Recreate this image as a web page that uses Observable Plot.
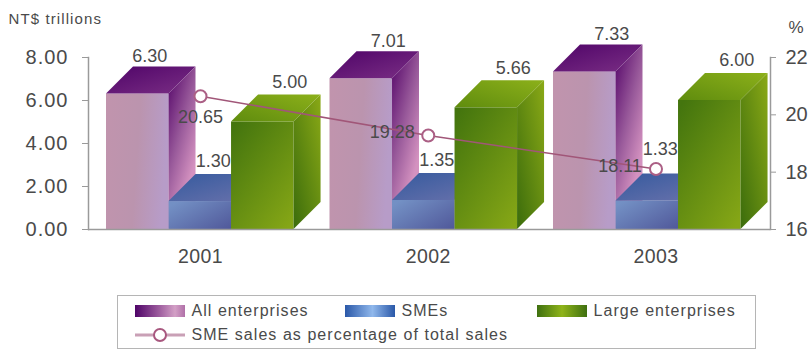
<!DOCTYPE html>
<html>
<head>
<meta charset="utf-8">
<script src="https://cdn.jsdelivr.net/npm/d3@7"></script>
<script src="https://cdn.jsdelivr.net/npm/@observablehq/plot@0.6"></script>
<style>
  html, body { margin: 0; background: #fff; }
  body { width: 809px; font-family: "Liberation Sans", Arial, sans-serif; color: #4a4a4a; }
  #legend {
    box-sizing: border-box; margin: 5px 0 0 117px; width: 639px; height: 54px;
    border: 1.5px solid #b5b5b5; position: relative; font-size: 16px; letter-spacing: 1.05px;
  }
  #legend .item { position: absolute; white-space: nowrap; display: flex; align-items: center; gap: 7px; height: 18px; }
  #legend .swatch { width: 50px; height: 12px; display: inline-block; }
  .unit text { letter-spacing: 1.1px; }
  .wide text { letter-spacing: 1px; }
  .year text { letter-spacing: 0.4px; }
</style>
</head>
<body>
<div id="chart"></div>
<div id="legend"></div>
<script>
// Sales by enterprise size, NT$ trillions
const years = [2001, 2002, 2003];
const allEnterprises = [6.30, 7.01, 7.33];
const smes = [1.30, 1.35, 1.33];
const largeEnterprises = [5.00, 5.66, 6.00];
// SME share of total sales, percent
const smeShare = [20.65, 19.28, 18.11];

const seriesNames = ["All enterprises", "SMEs", "Large enterprises"];
const lineName = "SME sales as percentage of total sales";
const unitLeft = "NT$ trillions";
const unitRight = "%";
const leftTicks = [0, 2, 4, 6, 8];
const rightTicks = [16, 18, 20, 22];

// The percent axis shares the vertical scale with the sales axis
const shareToY = (p) => (p - 16) / 6 * 8;
const yToShare = (y) => y / 8 * 6 + 16;

// Bar layout, in years along the x scale
const GROUP_STEP = 0.9813;
const GROUP_START = -0.4127;
const BAR_WIDTH = 0.2745;
const DEPTH = 27; // extrusion of the 3D faces, px
const AXIS = "#9a9a9a";
const TEXT = "#4a4a4a";

const barsOf = (values, slot) => years.map((year, i) => {
  const x1 = 2001 + i * GROUP_STEP + GROUP_START + slot * BAR_WIDTH;
  return { year, value: values[i], x1, x2: x1 + BAR_WIDTH, mid: x1 + BAR_WIDTH / 2 };
});
const allBars = barsOf(allEnterprises, 0);
const smeBars = barsOf(smes, 1);
const largeBars = barsOf(largeEnterprises, 2);
const shareRows = years.map((year, i) => ({ year, share: smeShare[i], y: shareToY(smeShare[i]) }));

// Linear gradient defined in a face's bounding box
function gradient(id, [x1, y1, x2, y2], stops) {
  const g = d3.create("svg:linearGradient").attr("id", id)
    .attr("x1", x1).attr("y1", y1).attr("x2", x2).attr("y2", y2);
  stops.forEach(([offset, color]) => g.append("stop").attr("offset", offset).attr("stop-color", color));
  return g.node();
}
const defsMark = () => {
  const defs = d3.create("svg:defs");
  [
    gradient("allFront", [0, 0, 1, 0.15], [[0, "#c194ad"], [0.55, "#bb94ae"], [1, "#b79cc8"]]),
    gradient("allTop", [0, 0, 1, 1], [[0, "#4f0468"], [1, "#7b2f85"]]),
    gradient("allSide", [0.2, 0, 0.8, 1], [[0, "#5e1170"], [0.4, "#98599a"], [0.78, "#d492c0"], [1, "#d492c0"]]),
    gradient("smeFront", [0, 0.2, 1, 1], [[0, "#7390c4"], [1, "#50589a"]]),
    gradient("smeTop", [0, 0, 1, 1], [[0, "#355a9e"], [1, "#6a72ac"]]),
    gradient("smeSide", [0, 0, 1, 1], [[0, "#5a68a6"], [1, "#3d4a8a"]]),
    gradient("largeFront", [0.1, 0, 0.9, 1], [[0, "#44750e"], [1, "#85a616"]]),
    gradient("largeTop", [0, 1, 1, 0], [[0, "#5f8c0e"], [1, "#8cb01a"]]),
    gradient("largeSide", [1, 0, 0, 1], [[0, "#8aa916"], [1, "#3b6c0c"]])
  ].forEach((g) => defs.node().appendChild(g));
  return defs.node();
};

// Adds the top and side faces of each bar next to the rect that Plot drew for it
const extruded = (name) => (index, scales, values, dimensions, context, next) => {
  const g = next(index, scales, values, dimensions, context);
  const { x1: X1, x2: X2, y2: Y } = values;
  const Y0 = scales.y(0);
  const face = (fill, points) => d3.select(g).selectAll(null).data(index).join("polygon")
    .attr("fill", `url(#${name}${fill})`)
    .attr("points", (i) => points(i).map((p) => p.join(",")).join(" "));
  face("Top", (i) => [[X1[i], Y[i]], [X2[i], Y[i]], [X2[i] + DEPTH, Y[i] - DEPTH], [X1[i] + DEPTH, Y[i] - DEPTH]]);
  face("Side", (i) => [[X2[i], Y[i]], [X2[i] + DEPTH, Y[i] - DEPTH], [X2[i] + DEPTH, Y0 - DEPTH], [X2[i], Y0]]);
  return g;
};
const bars = (rows, name) => Plot.rect(rows, {
  x1: "x1", x2: "x2", y1: () => 0, y2: "value",
  fill: `url(#${name}Front)`, render: extruded(name)
});

// Value labels float above each bar's top face
const barLabels = (rows, dx, dy) => Plot.text(rows, {
  x: "mid", y: "value", text: (d) => d.value.toFixed(2),
  dx, dy, fontSize: 18, fill: TEXT
});
const shareLabels = (rows, dx, dy) => Plot.text(rows, {
  x: "year", y: "y", text: (d) => d.share.toFixed(2),
  dx, dy, fontSize: 18, fill: TEXT
});

const chart = Plot.plot({
  width: 809,
  height: 290,
  marginLeft: 88,
  marginRight: 39,
  marginTop: 57,
  marginBottom: 61,
  style: { fontFamily: "'Liberation Sans', Arial, sans-serif", background: "#fff", overflow: "visible" },
  x: { type: "linear", domain: [2001, 2003], range: [200, 655.5] },
  y: { domain: [0, 8] },
  marks: [
    defsMark,
    bars(allBars, "all"),
    bars(smeBars, "sme"),
    bars(largeBars, "large"),
    Plot.frame({ anchor: "left", stroke: AXIS, strokeWidth: 1.5 }),
    Plot.frame({ anchor: "right", stroke: AXIS, strokeWidth: 1.5 }),
    Plot.ruleY([0], { stroke: AXIS, strokeWidth: 1.5 }),
    Plot.axisY({
      ticks: leftTicks, tickFormat: (d) => d.toFixed(2), label: null, className: "wide",
      tickSize: 6, tickPadding: 14, fontSize: 20, stroke: AXIS, fill: TEXT
    }),
    Plot.axisY({
      anchor: "right", ticks: rightTicks.map(shareToY), tickFormat: (d) => String(Math.round(yToShare(d))), label: null,
      tickSize: 5, tickPadding: 10, fontSize: 20, stroke: AXIS, fill: TEXT
    }),
    Plot.axisX({
      ticks: years, tickFormat: (d) => String(d), label: null, className: "year",
      tickSize: 0, tickPadding: 20, fontSize: 19.5, fill: TEXT
    }),
    Plot.text([unitLeft], { frameAnchor: "top-left", textAnchor: "start", dx: -80, dy: -44, fontSize: 15, fill: TEXT, className: "unit" }),
    Plot.text([unitRight], { frameAnchor: "top-right", textAnchor: "start", dx: 18, dy: -37, fontSize: 17, fill: TEXT }),
    barLabels(allBars.slice(0, 1), 12, -38),
    barLabels(allBars.slice(1), 27, -38),
    barLabels(smeBars.slice(0, 2), 13, -40),
    barLabels(smeBars.slice(2), 13, -52),
    barLabels(largeBars, 27, -40),
    Plot.line(shareRows, { x: "year", y: "y", stroke: "#a15678", strokeWidth: 1.6 }),
    Plot.dot(shareRows, { x: "year", y: "y", r: 6, fill: "#fff", stroke: "#ab5f85", strokeWidth: 2 }),
    shareLabels(shareRows.slice(0, 1), 0, 21),
    shareLabels(shareRows.slice(1), -36, -3)
  ]
});
document.getElementById("chart").appendChild(chart);

// Legend below the chart
const legend = d3.select("#legend");
const swatches = [
  ["linear-gradient(90deg,#4f0468,#a060a0 50%,#d3a0c6 80%,#b070a8)", 16.5, 5.5],
  ["linear-gradient(90deg,#2a58a8,#90b8ec 55%,#2a58a8)", 226.5, 5.5],
  ["linear-gradient(90deg,#3f7010,#8fb41a 50%,#3f7010)", 418.5, 5.5]
];
seriesNames.forEach((name, i) => {
  const [bg, left, top] = swatches[i];
  const item = legend.append("div").attr("class", "item").style("left", left + "px").style("top", top + "px");
  item.append("span").attr("class", "swatch").style("background", bg);
  item.append("span").text(name);
});
const lineItem = legend.append("div").attr("class", "item").style("left", "16.5px").style("top", "29.5px");
lineItem.append("svg").attr("width", 50).attr("height", 16).html(
  '<line x1="0" x2="50" y1="8" y2="8" stroke="#c9a0b6" stroke-width="3"/>' +
  '<circle cx="25" cy="8" r="6" fill="#fff" stroke="#a8587f" stroke-width="2"/>'
);
lineItem.append("span").text(lineName);
</script>
</body>
</html>
